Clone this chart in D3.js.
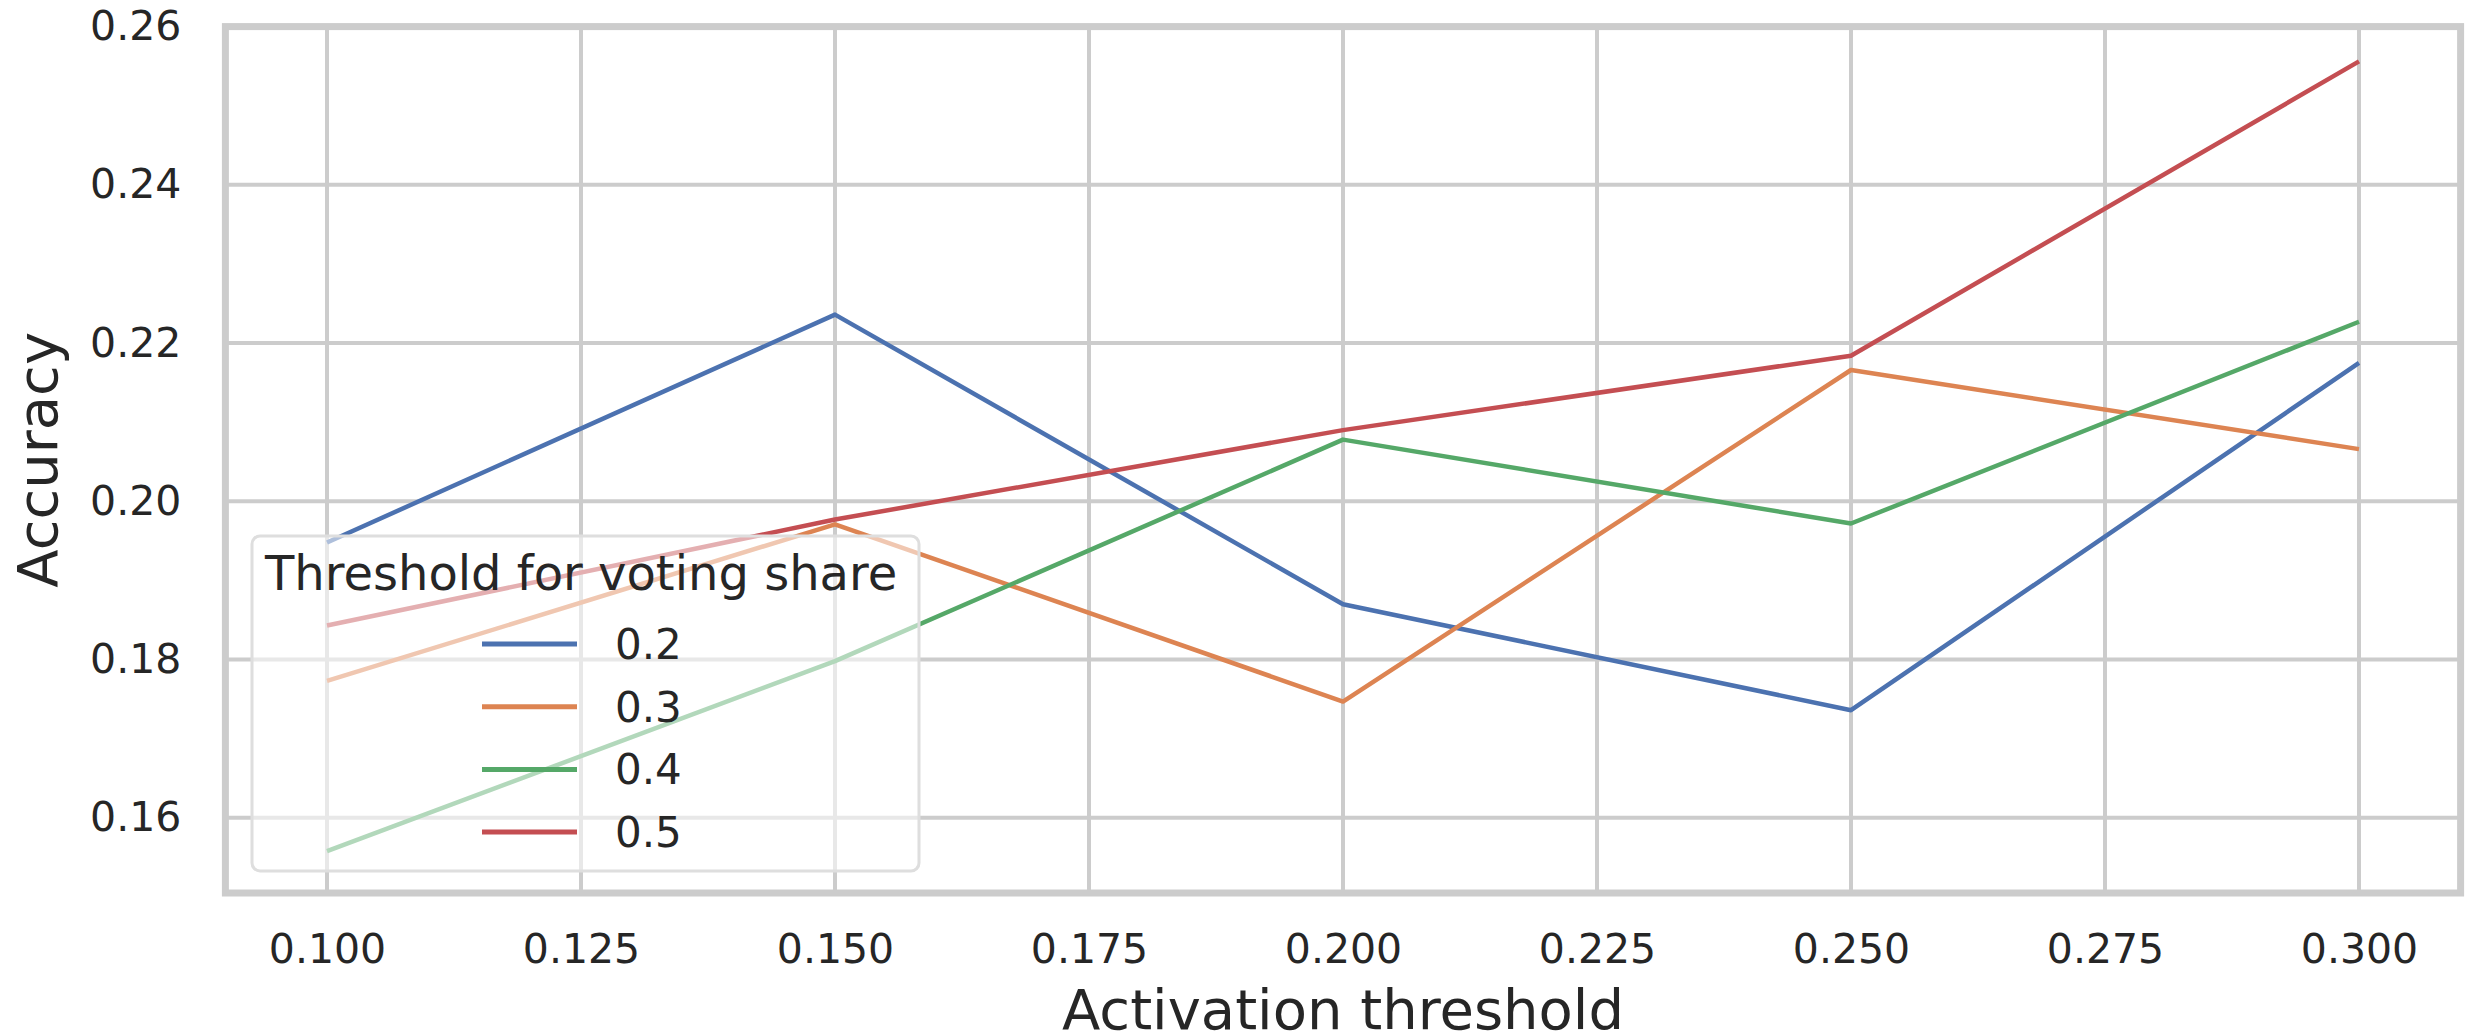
<!DOCTYPE html>
<html>
<head>
<meta charset="utf-8">
<script src="https://cdn.jsdelivr.net/npm/d3@7"></script>
<style>
  body { margin: 0; background: #fff; }
  text { font-family: "DejaVu Sans", sans-serif; fill: #262626; }
</style>
</head>
<body>
<svg id="chart"></svg>
<script>
// values
const activationThresholds = [0.100, 0.150, 0.200, 0.250, 0.300];
const votingShares = ['0.2', '0.3', '0.4', '0.5'];
const accuracy02 = [0.1948, 0.2236, 0.1870, 0.1736, 0.2175];
const accuracy03 = [0.1773, 0.1971, 0.1747, 0.2166, 0.2066];
const accuracy04 = [0.1558, 0.1798, 0.2078, 0.1972, 0.2227];
const accuracy05 = [0.1843, 0.1977, 0.2090, 0.2184, 0.2556];
const xTickValues = [0.100, 0.125, 0.150, 0.175, 0.200, 0.225, 0.250, 0.275, 0.300];
const yTickValues = [0.16, 0.18, 0.20, 0.22, 0.24, 0.26];
const seriesColors = ['#4c72b0', '#dd8452', '#55a868', '#c44e52'];

class LineChart {
    constructor(_config, _data) {
        this.config = {
            parentElement: _config.parentElement,
            width: 2468,
            height: 1036,
            xRange: [225.4, 2460.6],
            yRange: [893, 26.6],
        };
        this.data = _data;
        this.initVis();
    }

    initVis() {
        let vis = this;

        vis.svg = d3.select(vis.config.parentElement)
            .attr('width', vis.config.width)
            .attr('height', vis.config.height);

        vis.xScale = d3.scaleLinear().domain([0.09, 0.31]).range(vis.config.xRange);
        vis.yScale = d3.scaleLinear().domain([0.1505, 0.26]).range(vis.config.yRange);

        vis.renderVis();
    }

    renderVis() {
        let vis = this;
        const [x0, x1] = vis.config.xRange;
        const [y0, y1] = vis.config.yRange;

        // grid
        vis.svg.append('g')
            .selectAll('line')
            .data(xTickValues)
            .join('line')
                .attr('x1', d => vis.xScale(d)).attr('x2', d => vis.xScale(d))
                .attr('y1', y1).attr('y2', y0)
                .attr('stroke', '#cccccc').attr('stroke-width', 4);

        vis.svg.append('g')
            .selectAll('line')
            .data(yTickValues)
            .join('line')
                .attr('x1', x0).attr('x2', x1)
                .attr('y1', d => vis.yScale(d)).attr('y2', d => vis.yScale(d))
                .attr('stroke', '#cccccc').attr('stroke-width', 4);

        // tick labels
        const xAxis = d3.axisBottom(vis.xScale).tickValues(xTickValues)
            .tickFormat(d3.format('.3f')).tickSize(0);
        const xAxisG = vis.svg.append('g')
            .attr('transform', `translate(0,${y0})`)
            .call(xAxis);
        xAxisG.select('.domain').remove();
        xAxisG.selectAll('text')
            .attr('font-size', 41).attr('dy', 0)
            .attr('y', 70)
            .style('font-family', '"DejaVu Sans", sans-serif')
            .attr('fill', '#262626');

        const yAxis = d3.axisLeft(vis.yScale).tickValues(yTickValues)
            .tickFormat(d3.format('.2f')).tickSize(0).tickPadding(44);
        const yAxisG = vis.svg.append('g')
            .attr('transform', `translate(${x0},0)`)
            .call(yAxis);
        yAxisG.select('.domain').remove();
        yAxisG.selectAll('text')
            .attr('font-size', 41)
            .style('font-family', '"DejaVu Sans", sans-serif')
            .attr('fill', '#262626');

        // lines
        const line = d3.line()
            .x((d, i) => vis.xScale(activationThresholds[i]))
            .y(d => vis.yScale(d));

        vis.svg.append('g')
            .selectAll('path')
            .data(vis.data)
            .join('path')
                .attr('d', d => line(d))
                .attr('fill', 'none')
                .attr('stroke', (d, i) => seriesColors[i])
                .attr('stroke-width', 4.5)
                .attr('stroke-linejoin', 'round');

        // frame
        vis.svg.append('rect')
            .attr('x', x0).attr('y', y1)
            .attr('width', x1 - x0).attr('height', y0 - y1)
            .attr('fill', 'none')
            .attr('stroke', '#cccccc')
            .attr('stroke-width', 7);

        // axis titles
        vis.svg.append('text')
            .attr('x', (x0 + x1) / 2).attr('y', 1029)
            .attr('text-anchor', 'middle')
            .attr('font-size', 56)
            .text('Activation threshold');

        vis.svg.append('text')
            .attr('transform', `translate(57,${(y0 + y1) / 2}) rotate(-90)`)
            .attr('text-anchor', 'middle')
            .attr('font-size', 56)
            .text('Accuracy');

        // legend
        const legend = vis.svg.append('g');
        legend.append('rect')
            .attr('x', 252).attr('y', 536)
            .attr('width', 667).attr('height', 335)
            .attr('rx', 8)
            .attr('fill', 'rgba(255,255,255,0.55)')
            .attr('stroke', '#dedede')
            .attr('stroke-width', 3);

        legend.append('text')
            .attr('x', 265).attr('y', 590)
            .attr('font-size', 48)
            .text('Threshold for voting share');

        const items = legend.selectAll('.item')
            .data(votingShares)
            .join('g')
                .attr('class', 'item')
                .attr('transform', (d, i) => `translate(0,${644 + i * 62.7})`);

        items.append('line')
            .attr('x1', 482).attr('x2', 577)
            .attr('stroke', (d, i) => seriesColors[i])
            .attr('stroke-width', 5);

        items.append('text')
            .attr('x', 615).attr('y', 15)
            .attr('font-size', 42)
            .text(d => d);
    }
}

new LineChart({ parentElement: '#chart' }, [accuracy02, accuracy03, accuracy04, accuracy05]);
</script>
</body>
</html>
